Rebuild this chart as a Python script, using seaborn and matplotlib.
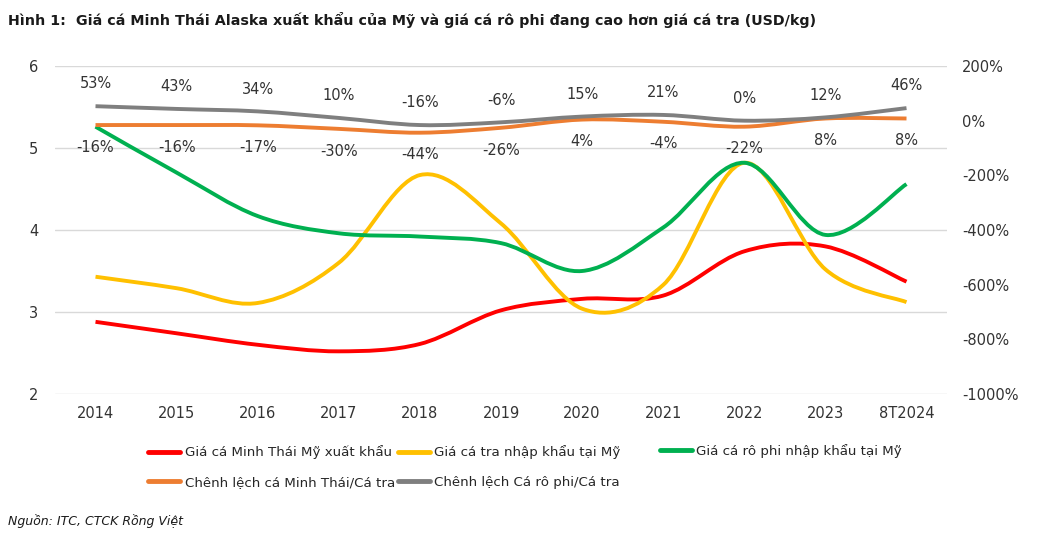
import numpy as np
import matplotlib
matplotlib.use("Agg")
import matplotlib.pyplot as plt
from matplotlib.path import Path
from matplotlib.patches import PathPatch
from matplotlib.lines import Line2D
from matplotlib.ticker import FuncFormatter
import seaborn as sns

# du lieu doc tu hinh (USD/kg va % chenh lech)
years = ["2014", "2015", "2016", "2017", "2018", "2019", "2020", "2021", "2022", "2023", "8T2024"]
minh_thai = [2.88, 2.74, 2.60, 2.52, 2.61, 3.02, 3.16, 3.20, 3.74, 3.80, 3.37]
ca_tra = [3.43, 3.29, 3.11, 3.60, 4.67, 4.08, 3.04, 3.33, 4.82, 3.52, 3.12]
ro_phi = [5.26, 4.70, 4.17, 3.96, 3.92, 3.84, 3.50, 4.03, 4.82, 3.94, 4.56]
cl_minh_thai = [-16, -16, -17, -30, -44, -26, 4, -4, -22, 8, 8]
cl_ro_phi = [53, 43, 34, 10, -16, -6, 15, 21, 0, 12, 46]

names = ["Giá cá Minh Thái Mỹ xuất khẩu", "Giá cá tra nhập khẩu tại Mỹ",
         "Giá cá rô phi nhập khẩu tại Mỹ", "Chênh lệch cá Minh Thái/Cá tra",
         "Chênh lệch Cá rô phi/Cá tra"]
colors = ["#FF0000", "#FFC000", "#00B050", "#ED7D31", "#7F7F7F"]

sns.set_style("white")
plt.rcParams["font.family"] = ["DejaVu Sans"]


def smooth_path(x, y):
    # duong cong kieu "smoothed line" cua Excel (Catmull-Rom -> Bezier)
    pts = np.column_stack([x, y]).astype(float)
    n = len(pts)
    verts = [pts[0]]
    codes = [Path.MOVETO]
    for i in range(n - 1):
        p0 = pts[max(i - 1, 0)]
        p1 = pts[i]
        p2 = pts[i + 1]
        p3 = pts[min(i + 2, n - 1)]
        verts += [p1 + (p2 - p0) / 6, p2 - (p3 - p1) / 6, p2]
        codes += [Path.CURVE4] * 3
    return Path(verts, codes)


def draw(ax, y, color):
    x = np.arange(len(years))
    ax.add_patch(PathPatch(smooth_path(x, y), facecolor="none", edgecolor=color,
                           lw=2.8, capstyle="butt", joinstyle="round"))


fig = plt.figure(figsize=(10.39, 5.35), dpi=100)
ax = fig.add_axes([0.0529, 0.2636, 0.8586, 0.613])
ax2 = ax.twinx()

ax.set_xlim(-0.5, len(years) - 0.5)
ax.set_ylim(2, 6)
ax.set_yticks([2, 3, 4, 5, 6])
ax2.set_ylim(-1000, 200)
ax2.set_yticks(range(-1000, 201, 200))
ax2.yaxis.set_major_formatter(FuncFormatter(lambda v, p: f"{v:.0f}%"))
ax.set_xticks(range(len(years)))
ax.set_xticklabels(years)

ax.grid(axis="y", color="#D9D9D9", lw=1)
ax.set_axisbelow(True)
for a in (ax, ax2):
    for s in a.spines.values():
        s.set_visible(False)
ax.tick_params(axis="y", length=0, pad=12, labelsize=10.5, labelcolor="#333333")
ax.tick_params(axis="x", length=0, pad=9, labelsize=10.5, labelcolor="#333333")
ax2.tick_params(axis="y", length=0, pad=11, labelsize=10.5, labelcolor="#333333")

draw(ax, minh_thai, colors[0])
draw(ax, ca_tra, colors[1])
draw(ax, ro_phi, colors[2])
draw(ax2, cl_minh_thai, colors[3])
draw(ax2, cl_ro_phi, colors[4])

for i in range(len(years)):
    ax2.annotate(f"{cl_ro_phi[i]}%", (i, cl_ro_phi[i]), xytext=(0, 16),
                 textcoords="offset points", ha="center", va="center",
                 fontsize=10.5, color="#333333")
    ax2.annotate(f"{cl_minh_thai[i]}%", (i, cl_minh_thai[i]), xytext=(0, -16),
                 textcoords="offset points", ha="center", va="center",
                 fontsize=10.5, color="#333333")

# chu thich: 2 cot dau, cot 3 rieng
leg_kw = dict(frameon=False, fontsize=9.6, handlelength=2.4, handletextpad=0.35,
              borderpad=0, borderaxespad=0)
order = [0, 3, 1, 4]
fig.legend([Line2D([], [], color=colors[k], lw=3.5) for k in order],
           [names[k] for k in order], loc="center left",
           bbox_to_anchor=(0.1424, 0.127), ncol=2, columnspacing=0.2,
           labelspacing=1.25, **leg_kw)
fig.legend([Line2D([], [], color=colors[2], lw=3.5)], [names[2]],
           loc="center left", bbox_to_anchor=(0.635, 0.157), **leg_kw)

fig.text(0.008, 0.962, "Hình 1:  Giá cá Minh Thái Alaska xuất khẩu của Mỹ và giá cá rô phi đang cao hơn giá cá tra (USD/kg)",
         fontsize=10.3, fontweight="bold", color="#1a1a1a", va="center")
fig.text(0.008, 0.026, "Nguồn: ITC, CTCK Rồng Việt", fontsize=9, style="italic",
         color="#1a1a1a", va="center")

fig.savefig("out.png", dpi=100)
